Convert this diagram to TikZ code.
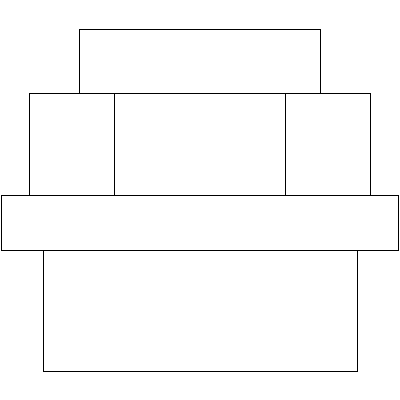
\documentclass[tikz,border=0pt]{standalone}
\begin{document}
\begin{tikzpicture}[x=1pt,y=-1pt,box/.style={draw=black,line width=1pt}]
\useasboundingbox (0,0) rectangle (400,400);
\draw[box] (79.5,29.3) rectangle (320.3,93.3);
\draw[box] (29.3,93.3) rectangle (370.3,195);
\draw[box] (114.3,93.3) -- (114.3,195);
\draw[box] (285.3,93.3) -- (285.3,195);
\draw[box] (1.7,195) rectangle (398.3,250.3);
\draw[box] (43.3,250.3) rectangle (357,371.3);
\end{tikzpicture}
\end{document}
